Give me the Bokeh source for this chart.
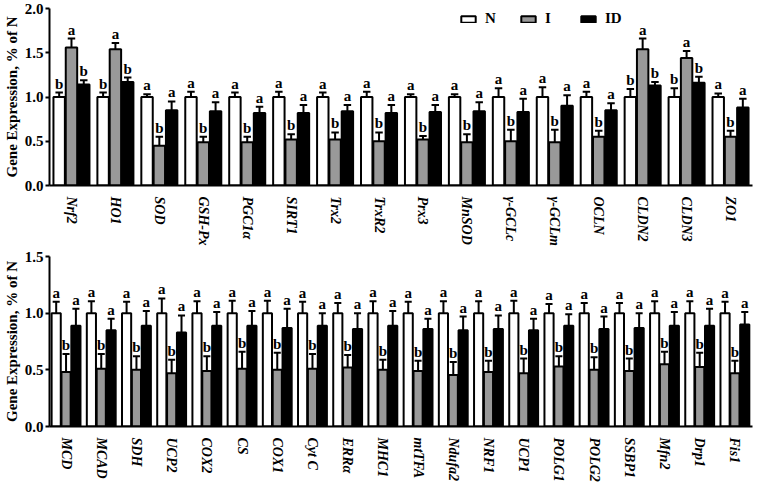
import math
from bokeh.plotting import figure
from bokeh.models import FixedTicker, ColumnDataSource, Legend, LegendItem
from bokeh.layouts import column
from bokeh.embed import file_html
from bokeh.resources import INLINE
from bokeh.core.properties import value

FONT = "Liberation Serif"

# ---------------- top panel data ----------------
top_genes = ["Nrf2", "HO1", "SOD", "GSH-Px", "PGC1α", "SIRT1", "Trx2", "TrxR2",
             "Prx3", "MnSOD", "γ-GCLc", "γ-GCLm", "OCLN", "CLDN2", "CLDN3", "ZO1"]
top_N = [1.0] * 16
top_N_err = [1.05, 1.05, 1.03, 1.06, 1.05, 1.06, 1.05, 1.06, 1.03, 1.03, 1.10, 1.11, 1.06, 1.09, 1.10, 1.04]
top_I = [1.56, 1.54, 0.45, 0.49, 0.49, 0.52, 0.52, 0.50, 0.52, 0.49, 0.50, 0.49, 0.55, 1.54, 1.44, 0.55]
top_I_err = [1.66, 1.61, 0.55, 0.55, 0.55, 0.58, 0.60, 0.60, 0.56, 0.58, 0.63, 0.63, 0.62, 1.66, 1.52, 0.62]
top_ID = [1.14, 1.17, 0.85, 0.84, 0.82, 0.82, 0.84, 0.82, 0.83, 0.84, 0.83, 0.90, 0.85, 1.13, 1.16, 0.88]
top_ID_err = [1.19, 1.22, 0.95, 0.94, 0.89, 0.91, 0.91, 0.91, 0.91, 0.94, 0.98, 1.02, 0.93, 1.17, 1.23, 0.98]
top_N_let = ["b", "b", "a", "a", "a", "a", "a", "a", "a", "a", "a", "a", "a", "b", "b", "a"]
top_I_let = ["a", "a", "b", "b", "b", "b", "b", "b", "b", "b", "b", "b", "b", "a", "a", "b"]
top_ID_let = ["b", "b", "a", "a", "a", "a", "a", "a", "a", "a", "a", "a", "a", "b", "b", "a"]

# ---------------- bottom panel data ----------------
bot_genes = ["MCD", "MCAD", "SDH", "UCP2", "COX2", "CS", "COX1", "Cyt C", "ERRα", "MHC1",
             "mtTFA", "Ndufa2", "NRF1", "UCP1", "POLG1", "POLG2", "SSBP1", "Mfn2", "Drp1", "Fis1"]
bot_N = [1.0] * 20
bot_N_err = [1.10, 1.105, 1.10, 1.13, 1.105, 1.11, 1.11, 1.10, 1.09, 1.105,
             1.10, 1.105, 1.105, 1.11, 1.08, 1.09, 1.09, 1.105, 1.105, 1.10]
bot_I = [0.48, 0.51, 0.50, 0.47, 0.49, 0.51, 0.50, 0.51, 0.52, 0.50,
         0.49, 0.455, 0.48, 0.47, 0.53, 0.50, 0.49, 0.55, 0.525, 0.47]
bot_I_err = [0.64, 0.64, 0.62, 0.59, 0.62, 0.66, 0.65, 0.64, 0.63, 0.59,
             0.58, 0.57, 0.58, 0.60, 0.62, 0.61, 0.60, 0.66, 0.65, 0.58]
bot_ID = [0.89, 0.85, 0.89, 0.83, 0.89, 0.89, 0.87, 0.89, 0.86, 0.89,
          0.86, 0.85, 0.86, 0.85, 0.89, 0.86, 0.87, 0.89, 0.89, 0.90]
bot_ID_err = [1.04, 0.95, 1.02, 0.98, 1.01, 1.02, 1.04, 1.00, 1.00, 1.02,
              0.95, 0.97, 0.98, 0.95, 0.99, 0.97, 1.00, 1.01, 1.04, 1.01]
bot_N_let = ["a"] * 20
bot_I_let = ["b"] * 20
bot_ID_let = ["a"] * 20

COLORS = {"N": "white", "I": "#999999", "ID": "black"}
OFFS = {"N": -0.28, "I": 0.0, "ID": 0.28}


def make_panel(genes, series, ymax, yticks, fh, btop, bbot, xlo, xhi, cap, legend=False):
    n = len(genes)
    p = figure(frame_width=703, frame_height=fh, x_range=(xlo, xhi), y_range=(0, ymax),
               output_backend="svg", toolbar_location=None,
               min_border_left=44, min_border_right=2,
               min_border_top=btop, min_border_bottom=bbot)
    p.outline_line_color = None
    p.grid.visible = False
    p.background_fill_color = "white"

    rends = {}
    for name, (vals, errs, lets) in series.items():
        xs = [i + OFFS[name] for i in range(n)]
        src = ColumnDataSource(dict(x=xs, top=vals, err=errs, let=lets,
                                    cl=[x - cap for x in xs], cr=[x + cap for x in xs]))
        p.segment(x0="x", y0="top", x1="x", y1="err", source=src, line_color="black", line_width=2)
        p.segment(x0="cl", y0="err", x1="cr", y1="err", source=src, line_color="black", line_width=2)
        r = p.vbar(x="x", top="top", bottom=0, width=0.26, source=src,
                   fill_color=COLORS[name], line_color="black", line_width=2)
        rends[name] = r
        p.text(x="x", y="err", text="let", source=src, text_align="center",
               text_baseline="bottom", y_offset=-1, text_font=value(FONT),
               text_font_style="bold", text_font_size="15px", text_color="black")

    # axes
    p.yaxis.ticker = FixedTicker(ticks=yticks)
    p.yaxis.major_label_overrides = {t: f"{t:.1f}" for t in yticks}
    p.yaxis.minor_tick_line_color = None
    p.yaxis.axis_line_width = 2
    p.yaxis.axis_line_color = "black"
    p.yaxis.major_tick_line_width = 2
    p.yaxis.major_tick_line_color = "black"
    p.yaxis.major_tick_in = 0
    p.yaxis.major_tick_out = 4
    p.yaxis.major_label_standoff = 2
    p.yaxis.major_label_text_font = FONT
    p.yaxis.major_label_text_font_style = "bold"
    p.yaxis.major_label_text_font_size = "15px"
    p.yaxis.major_label_text_color = "black"
    p.yaxis.axis_label = "Gene Expression, % of N"
    p.yaxis.axis_label_text_font = FONT
    p.yaxis.axis_label_text_font_style = "bold"
    p.yaxis.axis_label_text_font_size = "15px"
    p.yaxis.axis_label_text_color = "black"
    p.yaxis.axis_label_standoff = 2

    p.xaxis.ticker = FixedTicker(ticks=list(range(n)))
    p.xaxis.major_label_overrides = {i: g for i, g in enumerate(genes)}
    p.xaxis.major_label_orientation = -math.pi / 2
    p.xaxis.major_tick_line_color = None
    p.xaxis.minor_tick_line_color = None
    p.xaxis.axis_line_width = 2
    p.xaxis.axis_line_color = "black"
    p.xaxis.major_label_standoff = 5
    p.xaxis.major_label_text_font = FONT
    p.xaxis.major_label_text_font_style = "bold italic"
    p.xaxis.major_label_text_font_size = "14px"
    p.xaxis.major_label_text_color = "black"

    if legend:
        leg = Legend(items=[LegendItem(label=k, renderers=[rends[k]]) for k in ["N", "I", "ID"]],
                     orientation="horizontal", location=(410, 158))
        leg.border_line_color = None
        leg.background_fill_alpha = 0
        leg.padding = 0
        leg.margin = 0
        leg.spacing = 14
        leg.glyph_width = 18
        leg.glyph_height = 8
        leg.label_standoff = 8
        leg.label_height = 14
        leg.label_text_font = FONT
        leg.label_text_font_style = "bold"
        leg.label_text_font_size = "15px"
        leg.label_text_color = "black"
        p.add_layout(leg)
    return p


top = make_panel(top_genes,
                 {"N": (top_N, top_N_err, top_N_let),
                  "I": (top_I, top_I_err, top_I_let),
                  "ID": (top_ID, top_ID_err, top_ID_let)},
                 2.0, [0.0, 0.5, 1.0, 1.5, 2.0], 177, 8, 55, -0.5, 15.5, 0.085, legend=True)
bot = make_panel(bot_genes,
                 {"N": (bot_N, bot_N_err, bot_N_let),
                  "I": (bot_I, bot_I_err, bot_I_let),
                  "ID": (bot_ID, bot_ID_err, bot_ID_let)},
                 1.5, [0.0, 0.5, 1.0, 1.5], 170, 8, 49, -0.47, 19.5, 0.1)

layout = column(top, bot, spacing=0)
open("out.html", "w").write(file_html(layout, INLINE))
